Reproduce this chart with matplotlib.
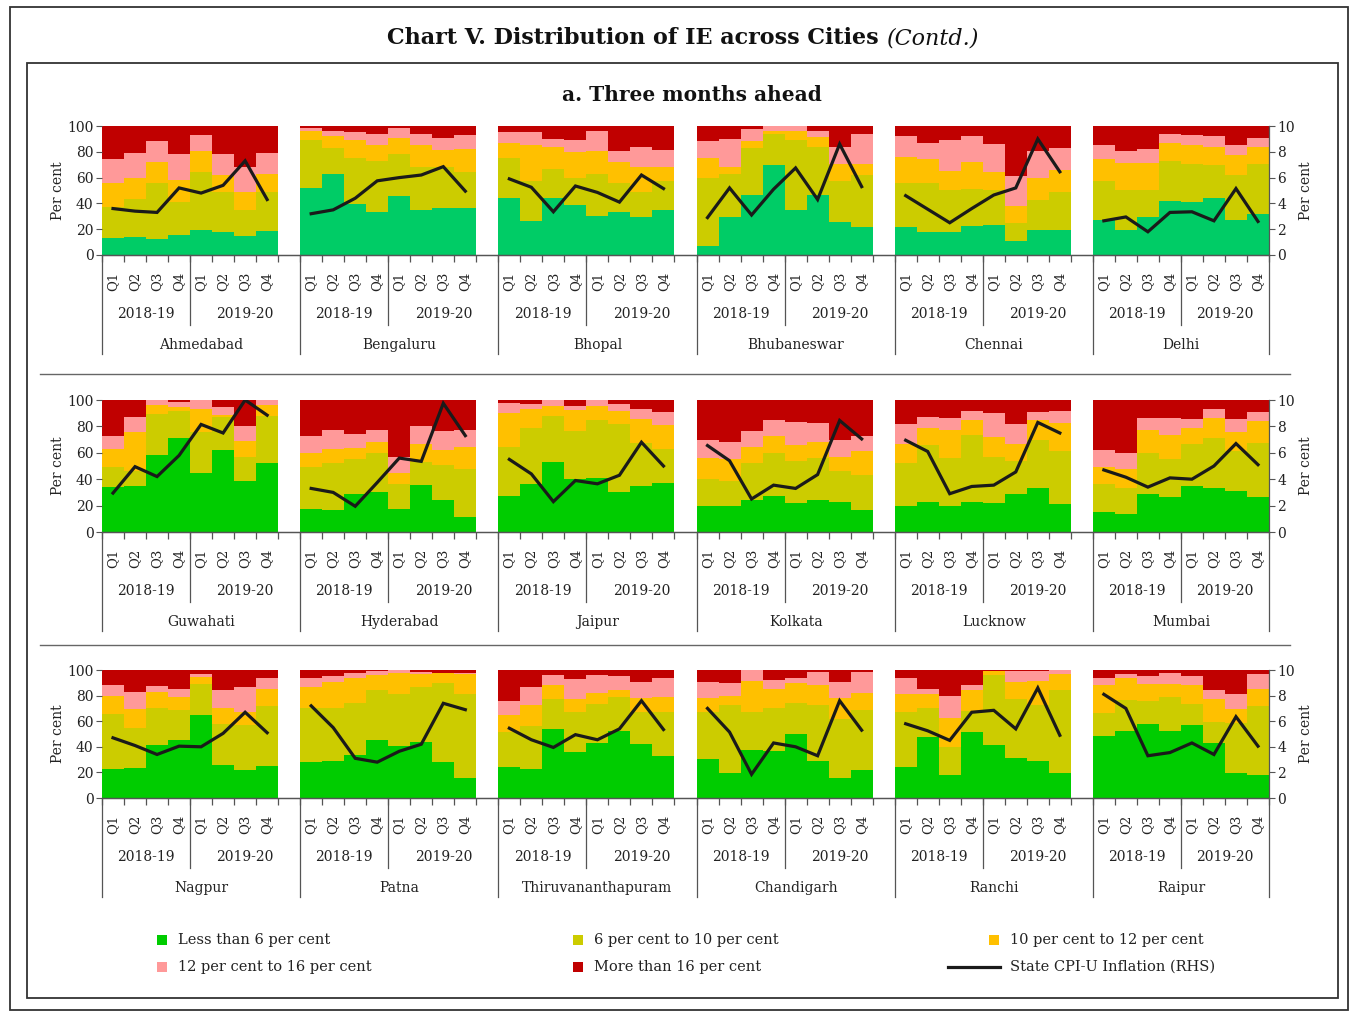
import numpy as np
import matplotlib
matplotlib.use("Agg")
import matplotlib.pyplot as plt
from matplotlib.patches import Rectangle
from matplotlib.lines import Line2D

plt.rcParams['font.family'] = ['DejaVu Serif']

CITIES = ["Ahmedabad", "Bengaluru", "Bhopal", "Bhubaneswar", "Chennai", "Delhi",
          "Guwahati", "Hyderabad", "Jaipur", "Kolkata", "Lucknow", "Mumbai",
          "Nagpur", "Patna", "Thiruvananthapuram", "Chandigarh", "Ranchi", "Raipur"]
QUARTERS = ["Q1", "Q2", "Q3", "Q4"]
YEARS = ["2018-19", "2019-20"]
SERIES = ["Less than 6 per cent", "6 per cent to 10 per cent", "10 per cent to 12 per cent",
          "12 per cent to 16 per cent", "More than 16 per cent"]
LINE_LABEL = "State CPI-U Inflation (RHS)"

# share of respondents (per cent), one row per city, 8 quarters
BELOW6 = [
    [13, 14, 12.5, 15.5, 19.5, 17.5, 15, 18.5],
    [52, 62.5, 39.5, 33, 45.5, 35, 36.5, 36.5],
    [44.5, 26.5, 44.5, 39, 30.5, 33.5, 29.5, 34.5],
    [7, 29.5, 46.5, 70, 34.5, 46.5, 25.5, 21.5],
    [22, 17.5, 18, 22.5, 23.5, 10.5, 19.5, 19],
    [27.5, 19, 29.5, 42, 41, 44, 27.5, 31.5],
    [34, 34.5, 58.5, 71.5, 45, 62, 38.5, 52],
    [17.5, 17, 28.5, 30, 17.5, 35.5, 24, 11],
    [27, 36, 53, 40.5, 41, 30, 34.5, 37],
    [19.5, 19.5, 24, 27, 22, 24.5, 22.5, 17],
    [20, 23, 20, 23, 22, 28.5, 33, 21],
    [15.5, 14, 28.5, 26.5, 34.5, 33, 31, 26.5],
    [22.5, 23.5, 41.5, 45, 65, 26, 22, 25],
    [28, 29, 33.5, 45, 40.5, 43.5, 28, 16],
    [24.5, 23, 54, 36, 43, 52, 42.5, 32.5],
    [30.5, 19.5, 37.5, 37, 50, 29, 16, 22],
    [24, 47.5, 18, 51.5, 41.5, 31, 29, 19.5],
    [48.5, 52, 57.5, 52, 57, 43, 19.5, 18],
]
FROM6TO10 = [
    [24.5, 29.5, 43.5, 25.5, 45, 31.5, 20, 30.5],
    [37.5, 20.5, 35.5, 39.5, 32.5, 33, 31.5, 27.5],
    [30.5, 30.5, 22, 20.5, 32, 22.5, 19, 22.5],
    [52.5, 33.5, 36.5, 24, 54.5, 37.5, 32, 40.5],
    [33.5, 38, 32, 29, 27, 14, 23.5, 29.5],
    [29.5, 31, 20.5, 30.5, 29.5, 26, 34.5, 39],
    [15, 12, 31, 20.5, 31, 25, 18, 36],
    [31.5, 35, 27, 30, 19, 17.5, 27, 36.5],
    [37.5, 43, 35, 36, 43.5, 51.5, 33, 26],
    [21, 19, 28.5, 33, 31.5, 31.5, 24, 26.5],
    [32.5, 43, 36, 50.5, 35, 25, 37, 40.5],
    [20.5, 19, 31.5, 28.5, 32, 38, 30, 41],
    [43.5, 31, 28.5, 24, 24, 32, 35, 46.5],
    [42.5, 41.5, 40.5, 39, 40.5, 43.5, 61.5, 65],
    [27, 33.5, 23, 31, 30.5, 27, 24.5, 35],
    [37, 53, 30, 33.5, 24, 43.5, 45.5, 46.5],
    [43.5, 22.5, 21.5, 16.5, 54.5, 46.5, 44, 65],
    [18, 24.5, 18.5, 27, 16.5, 16, 39, 53.5],
]
FROM10TO12 = [
    [18, 16.5, 16, 17.5, 16.5, 13, 14, 13.5],
    [7, 9, 14, 12.5, 13, 17, 13.5, 18],
    [12, 28.5, 17, 20.5, 18.5, 16, 19.5, 11.5],
    [15.5, 5.5, 5, 2.5, 7.5, 7.5, 13, 8.5],
    [20.5, 19, 15.5, 20.5, 13.5, 13.5, 17, 17.5],
    [17.5, 21, 21, 14, 15, 14, 15.5, 13],
    [14, 29, 7, 3, 17, 2, 12.5, 8],
    [10.5, 11, 8.5, 8, 8, 14, 11, 17],
    [25.5, 14.5, 7.5, 16, 11, 10, 18, 18],
    [15.5, 17, 12, 12.5, 12.5, 12, 10.5, 17.5],
    [14, 12.5, 21, 11.5, 15, 13.5, 14.5, 21],
    [13, 14.5, 17, 18.5, 12, 15, 14.5, 16.5],
    [14, 15, 13, 10, 5.5, 12, 10, 14],
    [16.5, 20.5, 20, 12, 16.5, 9.5, 8, 16],
    [13.5, 16.5, 11, 10.5, 8.5, 5, 11, 11.5],
    [11, 7.5, 24, 14.5, 16, 15.5, 17, 13.5],
    [13.5, 11.5, 23, 16, 3, 13, 18.5, 12],
    [22, 17, 13, 10, 14.5, 18.5, 11, 14],
]
FROM12TO16 = [
    [19, 19, 16.5, 19.5, 12, 16.5, 19, 16.5],
    [2, 4.5, 6.5, 8.5, 7.5, 9, 9, 11],
    [8, 10, 6.5, 9.5, 15.5, 9, 16, 13],
    [13.5, 21.5, 10, 3.5, 3.5, 4.5, 13.5, 23.5],
    [16, 12, 23.5, 20, 22, 23, 21, 17],
    [10.5, 9.5, 11, 7, 7.5, 8, 7.5, 7.5],
    [10, 11.5, 3.5, 3.5, 7, 6, 11.5, 4],
    [13.5, 14, 10, 9, 12, 13, 14.5, 13],
    [7.5, 3.5, 4.5, 3, 4.5, 5.5, 8, 10],
    [14, 12.5, 12, 12, 17, 14.5, 12.5, 12],
    [15.5, 9, 9.5, 6.5, 18, 15, 6.5, 9],
    [13.5, 12, 9, 12.5, 7, 7, 10, 7],
    [8, 13.5, 4.5, 6, 2.5, 14.5, 19.5, 8.5],
    [7, 4, 3.5, 3, 2.5, 2, 0.5, 1],
    [11, 14, 8, 15.5, 14, 11.5, 13, 14.5],
    [12.5, 10, 8.5, 7, 4, 10.5, 12.5, 16.5],
    [12.5, 4, 17, 4.5, 0.5, 8.5, 7.5, 3.5],
    [5.5, 3, 6, 9, 7, 7, 12, 11],
]
ABOVE16 = [
    [25.5, 21, 11.5, 22, 7, 21.5, 32, 21],
    [1.5, 3.5, 4.5, 6.5, 1.5, 6, 9.5, 7],
    [5, 4.5, 10, 10.5, 3.5, 19, 16, 18.5],
    [11.5, 10, 2, 0, 0, 4, 16, 6],
    [8, 13.5, 11, 8, 14, 39, 19, 17],
    [15, 19.5, 18, 6.5, 7, 8, 15, 9],
    [27, 13, 0, 1.5, 0, 5, 19.5, 0],
    [27, 23, 26, 23, 43.5, 20, 23.5, 22.5],
    [2.5, 3, 0, 4.5, 0, 3, 6.5, 9],
    [30, 32, 23.5, 15.5, 17, 17.5, 30.5, 27],
    [18, 12.5, 13.5, 8.5, 10, 18, 9, 8.5],
    [37.5, 40.5, 14, 14, 14.5, 7, 14.5, 9],
    [12, 17, 12.5, 15, 3, 15.5, 13.5, 6],
    [6, 5, 2.5, 1, 0, 1.5, 2, 2],
    [24, 13, 4, 7, 4, 4.5, 9, 6.5],
    [9, 10, 0, 8, 6, 1.5, 9, 1.5],
    [6.5, 14.5, 20.5, 11.5, 0.5, 1, 1, 0],
    [6, 3.5, 5, 2, 5, 15.5, 18.5, 3.5],
]
CPI_U = [
    [3.6, 3.4, 3.3, 5.2, 4.8, 5.4, 7.3, 4.3],
    [3.2, 3.5, 4.4, 5.75, 6.0, 6.2, 6.85, 4.95],
    [5.9, 5.25, 3.35, 5.35, 4.85, 4.1, 6.2, 5.15],
    [2.9, 5.2, 3.1, 5.1, 6.75, 4.3, 8.6, 5.3],
    [4.6, 3.55, 2.5, 3.6, 4.65, 5.2, 9.0, 6.45],
    [2.65, 2.95, 1.8, 3.3, 3.35, 2.65, 5.15, 2.6],
    [2.95, 4.95, 4.2, 5.8, 8.15, 7.5, 10.0, 8.85],
    [3.3, 3.0, 1.95, 3.75, 5.6, 5.35, 9.75, 7.3],
    [5.5, 4.4, 2.3, 3.9, 3.65, 4.3, 6.8, 5.0],
    [6.55, 5.4, 2.5, 3.55, 3.3, 4.35, 8.45, 7.05],
    [6.95, 6.1, 2.9, 3.45, 3.55, 4.55, 8.3, 7.5],
    [4.7, 4.15, 3.4, 4.1, 4.0, 5.0, 6.7, 5.1],
    [4.7, 4.1, 3.4, 4.05, 4.0, 5.05, 6.7, 5.1],
    [7.2, 5.5, 3.1, 2.8, 3.65, 4.2, 7.4, 6.9],
    [5.45, 4.55, 3.95, 4.95, 4.55, 5.4, 7.6, 5.35],
    [7.0, 5.15, 1.85, 4.3, 4.0, 3.3, 7.6, 5.3],
    [5.8, 5.25, 4.5, 6.7, 6.85, 5.4, 8.6, 4.9],
    [8.1, 7.0, 3.3, 3.55, 4.3, 3.4, 6.35, 4.05],
]

# ---------------- styling ----------------
W, H = 1357, 1013
ROW_GREEN = ["#00CC66", "#00CC00", "#00CC00"]
C_Y, C_O, C_P, C_R = "#CCCC00", "#FFC000", "#FF9999", "#C00000"
AXC = "#555555"
TXT = "#222222"

fig = plt.figure(figsize=(W / 100, H / 100), dpi=100)


def fx(px):
    return px / W


def fy(py):
    return 1 - py / H


ROWS = [(126, 255), (400, 532), (670, 798)]
XL, XR = 102, 1269
NSLOT = 53

for r, (top, bot) in enumerate(ROWS):
    hpx = bot - top
    ax = fig.add_axes([fx(XL), fy(bot), (XR - XL) / W, hpx / H])
    ax2 = ax.twinx()
    ax.set_xlim(0, NSLOT)
    ax.set_ylim(0, 100)
    ax2.set_ylim(0, 10)
    ax.set_zorder(1)
    ax2.set_zorder(2)
    colors = [ROW_GREEN[r], C_Y, C_O, C_P, C_R]
    tr = ax.get_xaxis_transform()
    for k in range(6):
        c = r * 6 + k
        xs = k * 9 + np.arange(8) + 0.5
        base = np.zeros(8)
        for vals, col in zip([BELOW6[c], FROM6TO10[c], FROM10TO12[c], FROM12TO16[c], ABOVE16[c]], colors):
            v = np.array(vals, dtype=float)
            ax.bar(xs, v, width=1.0, bottom=base, color=col, linewidth=0)
            base = base + v
        ax2.plot(xs, CPI_U[c], color="#1a1a1a", lw=2.3, solid_joinstyle="miter")
        for j in range(8):
            ax.text(xs[j], -26 / hpx, QUARTERS[j % 4], rotation=90, ha="center", va="center",
                    transform=tr, fontsize=9.5, color=TXT, clip_on=False)
        end = 9 if k < 5 else 8
        ax.text(k * 9 + 2, -59 / hpx, YEARS[0], ha="center", va="center", transform=tr,
                fontsize=10, color=TXT)
        ax.text(k * 9 + (4 + end) / 2, -59 / hpx, YEARS[1], ha="center", va="center",
                transform=tr, fontsize=10, color=TXT)
        ax.text(k * 9 + end / 2, -90 / hpx, CITIES[c], ha="center", va="center", transform=tr,
                fontsize=10, color=TXT)
        ax.plot([k * 9 + 4] * 2, [0, -70 / hpx], transform=tr, color=AXC, lw=0.9, clip_on=False)
        ax.plot([k * 9] * 2, [0, -99 / hpx], transform=tr, color=AXC, lw=0.9, clip_on=False)
    ax.plot([NSLOT] * 2, [0, -99 / hpx], transform=tr, color=AXC, lw=0.9, clip_on=False)

    ax.set_xticks(np.arange(0, NSLOT + 1))
    ax.set_xticklabels([])
    ax.tick_params(axis="x", length=5, color=AXC, width=0.9)
    ax.set_yticks(np.arange(0, 101, 20))
    ax.tick_params(axis="y", length=4, color=AXC, labelsize=10, labelcolor=TXT, pad=2)
    ax2.set_yticks(np.arange(0, 11, 2))
    ax2.tick_params(axis="y", length=4, color=AXC, labelsize=10, labelcolor=TXT, pad=2)
    for a in (ax, ax2):
        for s in ("top", "left", "right"):
            a.spines[s].set_visible(False)
        a.spines["bottom"].set_color(AXC)
        a.spines["bottom"].set_linewidth(0.9)
    ax2.spines["right"].set_visible(True)
    ax2.spines["right"].set_color(AXC)
    ax2.spines["right"].set_linewidth(0.9)
    ax.spines["bottom"].set_zorder(5)

    ymid = fy((top + bot) / 2)
    fig.text(fx(58), ymid, "Per cent", rotation=90, ha="center", va="center", fontsize=10, color=TXT)
    fig.text(fx(1306), ymid, "Per cent", rotation=90, ha="center", va="center", fontsize=10, color=TXT)

# row separators
for yy in (374, 645):
    fig.add_artist(Line2D([fx(40), fx(1290)], [fy(yy), fy(yy)], color="#666666", lw=1))

# frames
fig.add_artist(Rectangle((fx(10), fy(1010)), fx(1348) - fx(10), (1010 - 7) / H, fill=False,
                         edgecolor="#333333", lw=1.3))
fig.add_artist(Rectangle((fx(27), fy(998)), fx(1338) - fx(27), (998 - 63) / H, fill=False,
                         edgecolor="#333333", lw=1.3))

# titles
t1 = fig.text(0, fy(38), "Chart V. Distribution of IE across Cities", weight="bold",
              fontsize=16, ha="left", va="center", color="#111111")
t2 = fig.text(0, fy(38), "(Contd.)", style="italic", fontsize=16, ha="left", va="center",
              color="#111111")
fig.text(fx(692), fy(95), "a. Three months ahead", weight="bold", fontsize=14.5, ha="center",
         va="center", color="#111111")
fig.canvas.draw()
rend = fig.canvas.get_renderer()
w1 = t1.get_window_extent(rend).width
w2 = t2.get_window_extent(rend).width
gap = 8
x0 = 683 - (w1 + gap + w2) / 2
t1.set_x(fx(x0))
t2.set_x(fx(x0 + w1 + gap))

# legend
leg_items = [
    (157, 940, "sq", "#00CC00", SERIES[0]),
    (573, 940, "sq", C_Y, SERIES[1]),
    (989, 940, "sq", C_O, SERIES[2]),
    (157, 967, "sq", C_P, SERIES[3]),
    (573, 967, "sq", C_R, SERIES[4]),
    (989, 967, "line", "#1a1a1a", LINE_LABEL),
]
for x, y, kind, col, lab in leg_items:
    if kind == "sq":
        fig.add_artist(Rectangle((fx(x), fy(y + 5)), 10 / W, 10 / H, facecolor=col, edgecolor="none"))
    else:
        fig.add_artist(Line2D([fx(948), fx(1000)], [fy(y), fy(y)], color=col, lw=2.3))
    fig.text(fx(x + 21), fy(y), lab, ha="left", va="center", fontsize=10.5, color=TXT)

fig.savefig("out.png", dpi=100)
